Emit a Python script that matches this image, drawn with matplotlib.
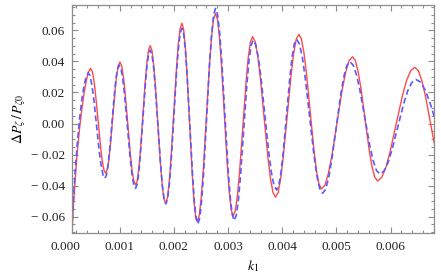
import numpy as np
import matplotlib
matplotlib.use("Agg")
import matplotlib.pyplot as plt
from matplotlib.ticker import MultipleLocator, FixedLocator, FixedFormatter
import matplotlib.transforms as mtransforms

# red solid curve (k1, dP/P0)
k_red = [0.000100, 0.000140, 0.000180, 0.000220, 0.000260, 0.000300, 0.000340, 0.000380, 0.000420, 0.000463,
         0.000494, 0.000525, 0.000555, 0.000601, 0.000648, 0.000678, 0.000709, 0.000740,
         0.000769, 0.000799, 0.000828, 0.000872, 0.000916, 0.000945, 0.000975, 0.001004,
         0.001036, 0.001068, 0.001100, 0.001149, 0.001197, 0.001229, 0.001261, 0.001293,
         0.001323, 0.001353, 0.001383, 0.001428, 0.001473, 0.001503, 0.001533, 0.001563,
         0.001595, 0.001626, 0.001658, 0.001705, 0.001752, 0.001784, 0.001815, 0.001847,
         0.001880, 0.001914, 0.001947, 0.001998, 0.002048, 0.002081, 0.002115, 0.002148,
         0.002179, 0.002211, 0.002242, 0.002289, 0.002336, 0.002367, 0.002399, 0.002430,
         0.002468, 0.002505, 0.002543, 0.002600, 0.002656, 0.002694, 0.002731, 0.002769,
         0.002805, 0.002841, 0.002877, 0.002932, 0.002986, 0.003022, 0.003058, 0.003094,
         0.003134, 0.003174, 0.003213, 0.003273, 0.003333, 0.003372, 0.003412, 0.003452,
         0.003499, 0.003546, 0.003593, 0.003664, 0.003735, 0.003782, 0.003829, 0.003876,
         0.003924, 0.003972, 0.004019, 0.004091, 0.004163, 0.004210, 0.004258, 0.004306,
         0.004353, 0.004399, 0.004446, 0.004516, 0.004585, 0.004632, 0.004678, 0.004725,
         0.004789, 0.004852, 0.004916, 0.005011, 0.005106, 0.005170, 0.005233, 0.005297,
         0.005348, 0.005399, 0.005451, 0.005528, 0.005604, 0.005656, 0.005707, 0.005758,
         0.005834, 0.005911, 0.005987, 0.006102, 0.006217, 0.006293, 0.006370, 0.006446,
         0.006511, 0.006575, 0.006640, 0.006737, 0.006834]
v_red = [-0.0850, -0.0560, -0.0350, -0.0170, -0.0030, 0.0090, 0.0190, 0.0270, 0.0330, 0.0355,
         0.0335, 0.0276, 0.0186, 0.0018, -0.0151, -0.0241, -0.0300, -0.0320,
         -0.0299, -0.0236, -0.0141, 0.0038, 0.0217, 0.0312, 0.0375, 0.0396,
         0.0372, 0.0303, 0.0198, 0.0000, -0.0198, -0.0303, -0.0372, -0.0396,
         -0.0369, -0.0291, -0.0172, 0.0053, 0.0277, 0.0396, 0.0474, 0.0501,
         0.0471, 0.0382, 0.0247, -0.0007, -0.0260, -0.0395, -0.0484, -0.0514,
         -0.0479, -0.0378, -0.0224, 0.0066, 0.0355, 0.0509, 0.0610, 0.0645,
         0.0607, 0.0496, 0.0326, 0.0007, -0.0313, -0.0483, -0.0594, -0.0632,
         -0.0592, -0.0475, -0.0297, 0.0039, 0.0374, 0.0552, 0.0669, 0.0709,
         0.0670, 0.0556, 0.0383, 0.0057, -0.0269, -0.0442, -0.0556, -0.0595,
         -0.0560, -0.0460, -0.0307, -0.0018, 0.0271, 0.0424, 0.0524, 0.0559,
         0.0528, 0.0438, 0.0301, 0.0042, -0.0217, -0.0354, -0.0444, -0.0475,
         -0.0444, -0.0352, -0.0213, 0.0050, 0.0312, 0.0451, 0.0543, 0.0574,
         0.0544, 0.0458, 0.0325, 0.0077, -0.0172, -0.0305, -0.0391, -0.0421,
         -0.0396, -0.0321, -0.0208, 0.0005, 0.0217, 0.0330, 0.0405, 0.0430,
         0.0406, 0.0336, 0.0230, 0.0030, -0.0170, -0.0276, -0.0346, -0.0370,
         -0.0348, -0.0284, -0.0187, -0.0004, 0.0179, 0.0276, 0.0340, 0.0362,
         0.0340, 0.0277, 0.0181, 0.0000, -0.0181]

# blue dashed curve
k_blue = [0.000100, 0.000140, 0.000180, 0.000220, 0.000260, 0.000300, 0.000340, 0.000380, 0.000419,
          0.000453, 0.000487, 0.000522, 0.000573, 0.000624, 0.000659, 0.000693, 0.000727,
          0.000756, 0.000786, 0.000815, 0.000859, 0.000903, 0.000932, 0.000962, 0.000991,
          0.001025, 0.001058, 0.001092, 0.001142, 0.001192, 0.001226, 0.001259, 0.001293,
          0.001323, 0.001353, 0.001383, 0.001428, 0.001473, 0.001503, 0.001533, 0.001563,
          0.001595, 0.001627, 0.001659, 0.001708, 0.001756, 0.001788, 0.001820, 0.001852,
          0.001885, 0.001918, 0.001951, 0.002000, 0.002049, 0.002082, 0.002115, 0.002148,
          0.002181, 0.002214, 0.002246, 0.002296, 0.002345, 0.002377, 0.002410, 0.002443,
          0.002479, 0.002515, 0.002552, 0.002606, 0.002660, 0.002697, 0.002733, 0.002769,
          0.002807, 0.002845, 0.002884, 0.002941, 0.002998, 0.003037, 0.003075, 0.003113,
          0.003152, 0.003191, 0.003230, 0.003288, 0.003346, 0.003385, 0.003424, 0.003463,
          0.003511, 0.003559, 0.003607, 0.003679, 0.003751, 0.003799, 0.003847, 0.003895,
          0.003936, 0.003977, 0.004018, 0.004080, 0.004141, 0.004182, 0.004223, 0.004264,
          0.004317, 0.004371, 0.004424, 0.004504, 0.004584, 0.004637, 0.004691, 0.004744,
          0.004800, 0.004856, 0.004912, 0.004996, 0.005079, 0.005135, 0.005191, 0.005247,
          0.005309, 0.005370, 0.005432, 0.005524, 0.005616, 0.005678, 0.005739, 0.005801,
          0.005875, 0.005949, 0.006022, 0.006133, 0.006244, 0.006317, 0.006391, 0.006465,
          0.006551, 0.006637, 0.006722, 0.006808]
v_blue = [-0.0800, -0.0520, -0.0300, -0.0120, 0.0030, 0.0150, 0.0240, 0.0300, 0.0327,
          0.0307, 0.0247, 0.0157, -0.0013, -0.0183, -0.0273, -0.0333, -0.0353,
          -0.0331, -0.0268, -0.0171, 0.0012, 0.0194, 0.0291, 0.0354, 0.0376,
          0.0352, 0.0283, 0.0178, -0.0021, -0.0219, -0.0324, -0.0393, -0.0417,
          -0.0390, -0.0313, -0.0195, 0.0028, 0.0251, 0.0369, 0.0446, 0.0473,
          0.0443, 0.0357, 0.0225, -0.0023, -0.0270, -0.0402, -0.0488, -0.0518,
          -0.0484, -0.0386, -0.0235, 0.0048, 0.0330, 0.0481, 0.0579, 0.0613,
          0.0575, 0.0466, 0.0298, -0.0017, -0.0332, -0.0500, -0.0609, -0.0647,
          -0.0605, -0.0485, -0.0300, 0.0047, 0.0394, 0.0579, 0.0699, 0.0741,
          0.0700, 0.0581, 0.0400, 0.0058, -0.0284, -0.0465, -0.0584, -0.0625,
          -0.0590, -0.0489, -0.0335, -0.0044, 0.0247, 0.0401, 0.0502, 0.0537,
          0.0508, 0.0424, 0.0296, 0.0055, -0.0187, -0.0315, -0.0399, -0.0428,
          -0.0399, -0.0315, -0.0186, 0.0057, 0.0300, 0.0429, 0.0513, 0.0542,
          0.0512, 0.0426, 0.0294, 0.0047, -0.0201, -0.0333, -0.0419, -0.0449,
          -0.0424, -0.0350, -0.0237, -0.0026, 0.0186, 0.0299, 0.0373, 0.0398,
          0.0376, 0.0314, 0.0217, 0.0037, -0.0144, -0.0240, -0.0303, -0.0325,
          -0.0307, -0.0254, -0.0173, -0.0021, 0.0132, 0.0212, 0.0264, 0.0284,
          0.0267, 0.0216, 0.0138, 0.0041]

xticks = [0.000, 0.001, 0.002, 0.003, 0.004, 0.005, 0.006]
xticklabels = ["0.000", "0.001", "0.002", "0.003", "0.004", "0.005", "0.006"]
yticks = [-0.06, -0.04, -0.02, 0.00, 0.02, 0.04, 0.06]
yticklabels = ["\u2212 0.06", "\u2212 0.04", "\u2212 0.02", "0.00", "0.02", "0.04", "0.06"]

plt.rcParams['font.family'] = ['Liberation Serif', 'DejaVu Serif']
plt.rcParams['mathtext.fontset'] = 'stix'

fig = plt.figure(figsize=(4.41, 2.78), dpi=100)
ax = fig.add_axes([0.1633, 0.163, 0.8208, 0.819])

ax.plot(k_red, v_red, color='#ff4a4a', lw=1.0)
ax.plot(k_blue, v_blue, color='#5a5aff', lw=1.2, dashes=(3.5, 2.0))

ax.set_xlim(0.00012, 0.0068)
ax.set_ylim(-0.0703, 0.0763)

framec = '#8c8c8c'
for s in ax.spines.values():
    s.set_color(framec)
    s.set_linewidth(0.9)

ax.xaxis.set_major_locator(FixedLocator(xticks))
ax.xaxis.set_major_formatter(FixedFormatter(xticklabels))
ax.xaxis.set_minor_locator(MultipleLocator(0.0002))
ax.yaxis.set_major_locator(FixedLocator(yticks))
ax.yaxis.set_major_formatter(FixedFormatter(yticklabels))
ax.yaxis.set_minor_locator(MultipleLocator(0.005))

ax.tick_params(which='both', direction='in', top=True, right=True,
               color=framec, width=0.8, labelsize=9.5, labelcolor='#222222')
ax.tick_params(which='major', length=4.0)
ax.tick_params(which='minor', length=2.2)
ax.tick_params(axis='x', pad=6)
ax.tick_params(axis='y', pad=5)

# the 0.000 label sits just left of the frame
trans = mtransforms.blended_transform_factory(ax.transData, ax.transAxes)
ax.text(0.0, -0.035, "0.000", transform=trans, ha='center', va='top',
        fontsize=9.5, color='#222222', clip_on=False)

ax.set_xlabel(r'$k_1$', fontsize=10, labelpad=4)
ax.set_ylabel(r'$\Delta P_{\zeta}\,/\,P_{\zeta 0}$', fontsize=10, labelpad=2)

fig.savefig('out.png', dpi=100)
